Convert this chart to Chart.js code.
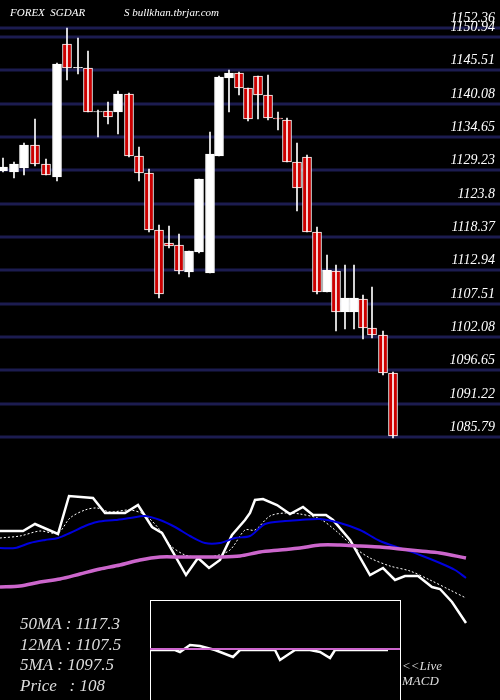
<!DOCTYPE html>
<html><head>
<script src="https://cdn.jsdelivr.net/npm/chart.js@4"></script>
<style>html,body{margin:0;background:#000}#wrap{width:500px;height:700px}</style>
</head><body><div id="wrap"><canvas id="c"></canvas></div>
<script>
// candles (price); candleX = session position on the time axis
const candleX = [0,1.1,2.1,3.2,4.3,5.4,6.4,7.5,8.5,9.5,10.5,11.5,12.6,13.6,14.6,15.6,16.6,17.6,18.6,19.6,20.7,21.6,22.6,23.6,24.5,25.5,26.5,27.5,28.4,29.4,30.4,31.4,32.4,33.3,34.2,35.1,36,36.9,38,39];
const opens  = [1129.12,1128.96,1129.61,1133.36,1130.26,1128.15,1149.81,1145.90,1145.90,1138.74,1138.90,1138.74,1141.67,1131.57,1128.80,1119.51,1117.40,1117.07,1112.67,1115.93,1112.51,1131.57,1144.27,1145.09,1142.64,1144.60,1141.50,1137.76,1137.43,1130.59,1131.41,1119.19,1109.41,1112.83,1106.16,1106.16,1108.27,1103.55,1102.41,1096.22];
const closes = [1129.78,1130.26,1133.36,1130.26,1128.47,1146.55,1145.90,1146.00,1138.74,1138.80,1137.92,1141.67,1131.57,1128.80,1119.51,1109.09,1116.91,1112.83,1116.09,1127.82,1131.89,1144.44,1145.09,1142.64,1137.60,1141.50,1137.76,1137.60,1130.59,1126.35,1119.19,1109.41,1112.96,1106.16,1108.44,1108.44,1103.55,1102.41,1096.22,1085.95];
const highs  = [1131.24,1130.59,1133.69,1137.59,1131.08,1146.72,1152.42,1150.79,1148.67,1139.06,1140.36,1142.16,1141.83,1133.03,1129.45,1120.33,1120.16,1118.86,1116.09,1127.82,1135.48,1144.60,1145.58,1145.25,1142.64,1144.60,1144.76,1138.74,1137.76,1133.69,1131.73,1120.00,1115.44,1113.81,1113.81,1113.81,1108.92,1110.23,1103.06,1096.38];
const lows   = [1128.96,1127.98,1128.47,1129.94,1128.47,1127.50,1143.95,1144.93,1138.74,1134.66,1136.78,1135.15,1131.41,1127.50,1119.19,1108.44,1116.58,1112.35,1111.86,1115.77,1112.51,1131.57,1138.74,1141.50,1137.27,1137.60,1137.43,1135.80,1130.59,1122.61,1119.19,1109.09,1109.41,1103.06,1103.39,1103.39,1101.76,1101.92,1095.89,1085.63];
const priceTicks = ['1152.36','1150.94','1145.51','1140.08','1134.65','1129.23','1123.8','1118.37','1112.94','1107.51','1102.08','1096.65','1091.22','1085.79'];

// indicator panel (relative levels)
const priceLineX = [-0.3,2,3.2,5.5,6.6,9,10.2,12.2,13.5,14.9,15.9,18.3,19.5,20.6,21.7,22.9,24.2,24.7,25.2,26,27.4,28.7,30,31,32.3,33,34.7,36.7,38,39.2,40.2,41.5,42.9,43.7,44.9,46.3];
const priceLine  = [169,169,176,166,204,202,187,187,195,173,167,125,142,132,140,165,180,187,200,201,195,186,193,185,185,180,160,125,132,120,124,124,113,111,98,77];
const ma5X = [-0.3,1.7,3.7,5.5,6.7,8.2,9.4,10.7,12.7,14.2,15.7,16.7,18.2,19.7,21.2,22.7,24.2,25.2,26.7,28.2,29.7,31.7,33.2,35.2,36.7,38.7,40.7,42.7,44.7,46.3];
const ma5  = [162,164,169,167,182,190,192,188,190,185,170,155,145,143,144,150,170,170,184,187,186,181,170,152,142,134,129,120,110,102];
const ma12X = [-0.3,1.2,2.7,4.2,5.5,6.7,8.2,9.4,11.2,12.7,14.2,15.7,17.2,18.7,20.2,21.7,23.2,24.7,26.2,28.2,29.7,31.7,33.7,35.7,37.7,39.7,41.7,43.7,45.2,46.3];
const ma12  = [152,152,157,160,162,167,174,178,180,182,184,180,173,164,157,157,162,164,176,179,180,181,177,170,159,152,145,137,130,122];
const ma50X = [-0.3,1.7,3.7,5.7,7.7,9.7,11.7,13.7,15.7,17.7,19.7,21.7,23.7,25.7,27.7,29.7,31.7,33.7,35.7,37.7,39.7,41.7,43.7,46.3];
const ma50  = [113,114,118,121,126,131,135,140,143,143,143,143,144,148,150,152,155,155,154,153,151,149,147,142];
const macdX = [14.7,17.2,17.7,18.7,19.7,21.2,23,23.7,24.7,27.2,27.7,29.2,30.7,31.7,32.7,33.2,38.5];
const macd  = [50,50,48,55,54,50,43,50,50,50,40,50,50,48,42,50,50];
const signalX = [14.7,39.7];
const signal  = [51,51];

const legendLines = ['50MA : 1117.3','12MA : 1107.5','5MA : 1097.5','Price   : 108'];
const serif = 'italic 14px "Liberation Serif", "DejaVu Serif", serif';

const idx = opens.map((_, i) => i);
const bodies = idx.map(i => ({ x: candleX[i], y: [opens[i], closes[i]] }));
const wicks = idx.map(i => ({ x: candleX[i], y: [lows[i], highs[i]] }));
const pts = (xs, ys) => xs.map((x, i) => ({ x, y: ys[i] }));

const overlay = {
  id: 'overlay',
  beforeDatasetsDraw(chart) {
    const c = chart.ctx, y = chart.scales.y, x = chart.scales.x, lv = chart.scales.lv;
    c.save();
    c.fillStyle = '#000'; c.fillRect(0, 0, 500, 700);
    c.strokeStyle = '#1c1c50'; c.lineWidth = 3;
    priceTicks.forEach(t => {
      const py = Math.round(y.getPixelForValue(parseFloat(t)));
      c.beginPath(); c.moveTo(0, py); c.lineTo(500, py); c.stroke();
    });
    c.fillStyle = '#fff'; c.font = serif; c.textAlign = 'right';
    priceTicks.forEach(t => {
      const py = y.getPixelForValue(parseFloat(t));
      c.fillText(t, 495, py - 6);
    });
    c.textAlign = 'left'; c.font = 'italic 11px "Liberation Serif", serif';
    c.fillText('FOREX  SGDAR', 10, 16);
    c.fillText('S bullkhan.tbrjar.com', 124, 16);
    // MACD box
    c.strokeStyle = '#fff'; c.lineWidth = 1;
    const bx = x.getPixelForValue(14.7), bx2 = x.getPixelForValue(39.7);
    c.strokeRect(Math.round(bx) + 0.5, lv.getPixelForValue(100) + 0.5, bx2 - bx, 110);
    c.fillStyle = '#ddd'; c.font = 'italic 17px "Liberation Serif", serif';
    legendLines.forEach((s, i) => c.fillText(s, 20, 629 + i * 20.5));
    c.font = 'italic 13px "Liberation Serif", serif';
    c.fillText('<<Live', 402, 670); c.fillText('MACD', 402, 685);
    c.restore();
  }
};

new Chart(document.getElementById('c'), {
  data: {
    datasets: [
      { type: 'line', yAxisID: 'lv', data: pts(ma50X, ma50), borderColor: '#cc66cc', borderWidth: 3.5, pointRadius: 0, tension: 0.3 },
      { type: 'line', yAxisID: 'lv', data: pts(ma12X, ma12), borderColor: '#0000dd', borderWidth: 2, pointRadius: 0, tension: 0.3 },
      { type: 'line', yAxisID: 'lv', data: pts(ma5X, ma5), borderColor: '#fff', borderWidth: 1, borderDash: [2, 2], pointRadius: 0, tension: 0.3 },
      { type: 'line', yAxisID: 'lv', data: pts(priceLineX, priceLine), borderColor: '#fff', borderWidth: 2.5, pointRadius: 0 },
      { type: 'line', yAxisID: 'lv', data: pts(signalX, signal), borderColor: '#cc66cc', borderWidth: 2, pointRadius: 0 },
      { type: 'line', yAxisID: 'lv', data: pts(macdX, macd), borderColor: '#fff', borderWidth: 2.5, pointRadius: 0 },
      { type: 'bar', data: wicks, backgroundColor: '#fff', barThickness: 1, grouped: false },
      { type: 'bar', data: bodies, grouped: false, barThickness: 9, borderWidth: 1, borderColor: '#fff', borderSkipped: false,
        backgroundColor: idx.map(i => closes[i] >= opens[i] ? '#fff' : '#cc0000') }
    ]
  },
  options: {
    responsive: true, maintainAspectRatio: false, animation: false,
    layout: { padding: 0 },
    plugins: { legend: { display: false }, tooltip: { enabled: false } },
    scales: {
      x: { type: 'linear', min: -0.3, max: 49.7, display: false, offset: false },
      y: { min: 1042.95, max: 1156.98, display: false },
      lv: { min: 0, max: 700, display: false }
    }
  },
  plugins: [overlay]
});
</script></body></html>
